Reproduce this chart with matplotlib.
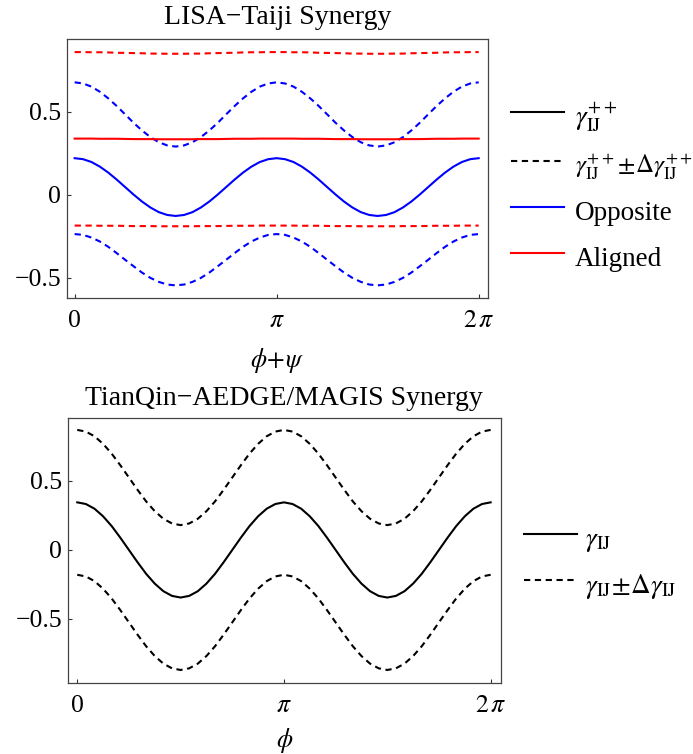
import numpy as np
import matplotlib
matplotlib.use("Agg")
import matplotlib.pyplot as plt
from matplotlib.lines import Line2D

plt.rcParams['font.family'] = ['Liberation Serif', 'DejaVu Serif']
plt.rcParams['mathtext.fontset'] = 'stix'

# angle grid (0 .. 2 pi, step pi/24)
phi = np.linspace(0, 2 * np.pi, 49)

# LISA-Taiji: opposite (blue) and aligned (red) configurations
opp = [0.220, 0.214, 0.197, 0.169, 0.133, 0.091, 0.046, 0.001, -0.041, -0.077, -0.105, -0.122, -0.128,
       -0.122, -0.105, -0.077, -0.041, 0.001, 0.046, 0.091, 0.133, 0.169, 0.197, 0.214, 0.220,
       0.214, 0.197, 0.169, 0.133, 0.091, 0.046, 0.001, -0.041, -0.077, -0.105, -0.122, -0.128,
       -0.122, -0.105, -0.077, -0.041, 0.001, 0.046, 0.091, 0.133, 0.169, 0.197, 0.214, 0.220]
opp_up = [0.677, 0.670, 0.651, 0.620, 0.580, 0.534, 0.484, 0.433, 0.387, 0.347, 0.316, 0.297, 0.290,
          0.297, 0.316, 0.347, 0.387, 0.433, 0.484, 0.534, 0.580, 0.620, 0.651, 0.670, 0.677,
          0.670, 0.651, 0.620, 0.580, 0.534, 0.484, 0.433, 0.387, 0.347, 0.316, 0.297, 0.290,
          0.297, 0.316, 0.347, 0.387, 0.433, 0.484, 0.534, 0.580, 0.620, 0.651, 0.670, 0.677]
opp_lo = [-0.237, -0.242, -0.258, -0.282, -0.314, -0.352, -0.392, -0.431, -0.469, -0.501, -0.525, -0.541, -0.546,
          -0.541, -0.525, -0.501, -0.469, -0.431, -0.392, -0.352, -0.314, -0.282, -0.258, -0.242, -0.237,
          -0.242, -0.258, -0.282, -0.314, -0.352, -0.392, -0.431, -0.469, -0.501, -0.525, -0.541, -0.546,
          -0.541, -0.525, -0.501, -0.469, -0.431, -0.392, -0.352, -0.314, -0.282, -0.258, -0.242, -0.237]
ali = [0.338, 0.338, 0.338, 0.337, 0.337, 0.337, 0.336, 0.335, 0.335, 0.335, 0.334, 0.334, 0.334,
       0.334, 0.334, 0.335, 0.335, 0.335, 0.336, 0.337, 0.337, 0.337, 0.338, 0.338, 0.338,
       0.338, 0.338, 0.337, 0.337, 0.337, 0.336, 0.335, 0.335, 0.335, 0.334, 0.334, 0.334,
       0.334, 0.334, 0.335, 0.335, 0.335, 0.336, 0.337, 0.337, 0.337, 0.338, 0.338, 0.338]
ali_up = [0.859, 0.859, 0.858, 0.858, 0.857, 0.855, 0.854, 0.853, 0.852, 0.850, 0.850, 0.849, 0.849,
          0.849, 0.850, 0.850, 0.852, 0.853, 0.854, 0.855, 0.857, 0.858, 0.858, 0.859, 0.859,
          0.859, 0.858, 0.858, 0.857, 0.855, 0.854, 0.853, 0.852, 0.850, 0.850, 0.849, 0.849,
          0.849, 0.850, 0.850, 0.852, 0.853, 0.854, 0.855, 0.857, 0.858, 0.858, 0.859, 0.859]
ali_lo = [-0.186, -0.186, -0.186, -0.187, -0.187, -0.187, -0.188, -0.189, -0.189, -0.189, -0.190, -0.190, -0.190,
          -0.190, -0.190, -0.189, -0.189, -0.189, -0.188, -0.187, -0.187, -0.187, -0.186, -0.186, -0.186,
          -0.186, -0.186, -0.187, -0.187, -0.187, -0.188, -0.189, -0.189, -0.189, -0.190, -0.190, -0.190,
          -0.190, -0.190, -0.189, -0.189, -0.189, -0.188, -0.187, -0.187, -0.187, -0.186, -0.186, -0.186]

# TianQin-AEDGE/MAGIS
gam = [0.345, 0.333, 0.299, 0.244, 0.173, 0.089, 0.000, -0.089, -0.173, -0.244, -0.299, -0.333, -0.345,
       -0.333, -0.299, -0.244, -0.173, -0.089, 0.000, 0.089, 0.173, 0.244, 0.299, 0.333, 0.345,
       0.333, 0.299, 0.244, 0.173, 0.089, 0.000, -0.089, -0.173, -0.244, -0.299, -0.333, -0.345,
       -0.333, -0.299, -0.244, -0.173, -0.089, 0.000, 0.089, 0.173, 0.244, 0.299, 0.333, 0.345]
gam_up = [0.870, 0.858, 0.824, 0.769, 0.698, 0.614, 0.525, 0.436, 0.352, 0.281, 0.226, 0.192, 0.180,
          0.192, 0.226, 0.281, 0.352, 0.436, 0.525, 0.614, 0.698, 0.769, 0.824, 0.858, 0.870,
          0.858, 0.824, 0.769, 0.698, 0.614, 0.525, 0.436, 0.352, 0.281, 0.226, 0.192, 0.180,
          0.192, 0.226, 0.281, 0.352, 0.436, 0.525, 0.614, 0.698, 0.769, 0.824, 0.858, 0.870]
gam_lo = [-0.180, -0.192, -0.226, -0.281, -0.352, -0.436, -0.525, -0.614, -0.698, -0.769, -0.824, -0.858, -0.870,
          -0.858, -0.824, -0.769, -0.698, -0.614, -0.525, -0.436, -0.352, -0.281, -0.226, -0.192, -0.180,
          -0.192, -0.226, -0.281, -0.352, -0.436, -0.525, -0.614, -0.698, -0.769, -0.824, -0.858, -0.870,
          -0.858, -0.824, -0.769, -0.698, -0.614, -0.525, -0.436, -0.352, -0.281, -0.226, -0.192, -0.180]

xticks = [0, np.pi, 2 * np.pi]
xticklabels = ['0', r'$\pi$', r'$2\,\pi$']
yticks = [-0.5, 0, 0.5]
yticklabels = ['\u22120.5', '0', '0.5']

fs_title = 20
fs_tick = 18.5
fs_leg = 19.5
lw = 1.5
dash = (0, (3.0, 2.2))

fig = plt.figure(figsize=(6.93, 7.54), dpi=100)
ax1 = fig.add_axes([0.0962, 0.6048, 0.608, 0.3435])
ax2 = fig.add_axes([0.0975, 0.0946, 0.6254, 0.3515])

ax1.plot(phi, ali_up, color='red', lw=lw, ls=dash)
ax1.plot(phi, ali_lo, color='red', lw=lw, ls=dash)
ax1.plot(phi, opp_up, color='blue', lw=lw, ls=dash)
ax1.plot(phi, opp_lo, color='blue', lw=lw, ls=dash)
ax1.plot(phi, ali, color='red', lw=lw)
ax1.plot(phi, opp, color='blue', lw=lw)
ax1.set_xlim(-0.124, 2 * np.pi + 0.145)
ax1.set_ylim(-0.622, 0.938)
ax1.set_title('LISA\u2212Taiji Synergy', fontsize=fs_title, pad=11)
ax1.set_xlabel(r'$\phi\!+\!\psi$', fontsize=fs_tick, labelpad=10)

handles1 = [Line2D([], [], color='black', lw=lw),
            Line2D([], [], color='black', lw=lw, ls=dash),
            Line2D([], [], color='blue', lw=lw),
            Line2D([], [], color='red', lw=lw)]
labels1 = [r'$\gamma_{\mathrm{IJ}}^{++}$',
           r'$\gamma_{\mathrm{IJ}}^{++}\!\pm\!\Delta\gamma_{\mathrm{IJ}}^{++}$',
           'Opposite', 'Aligned']
leg1 = ax1.legend(handles1, labels1, loc='center left', bbox_to_anchor=(1.055, 0.43),
                  frameon=False, fontsize=fs_leg, borderpad=0, borderaxespad=0,
                  handlelength=1.95, handletextpad=0.4, handleheight=1.5,
                  labelspacing=0.47)
leg1.get_texts()[1].set_fontsize(18)

ax2.plot(phi, gam_up, color='black', lw=lw, ls=dash)
ax2.plot(phi, gam_lo, color='black', lw=lw, ls=dash)
ax2.plot(phi, gam, color='black', lw=lw)
ax2.set_xlim(-0.147, 2 * np.pi + 0.157)
ax2.set_ylim(-0.962, 0.959)
ax2.set_title('TianQin\u2212AEDGE/MAGIS Synergy', fontsize=fs_title, pad=9)
ax2.set_xlabel(r'$\phi$', fontsize=fs_tick, labelpad=6)

handles2 = [Line2D([], [], color='black', lw=lw),
            Line2D([], [], color='black', lw=lw, ls=dash)]
labels2 = [r'$\gamma_{\mathrm{IJ}}$', r'$\gamma_{\mathrm{IJ}}\!\pm\!\Delta\gamma_{\mathrm{IJ}}$']
ax2.legend(handles2, labels2, loc='center left', bbox_to_anchor=(1.053, 0.46),
           frameon=False, fontsize=fs_leg, borderpad=0, borderaxespad=0,
           handlelength=1.95, handletextpad=0.3, handleheight=1.5,
           labelspacing=0.47)

for ax in (ax1, ax2):
    ax.set_xticks(xticks)
    ax.set_xticklabels(xticklabels)
    ax.set_yticks(yticks)
    ax.set_yticklabels(yticklabels)
    ax.tick_params(direction='in', length=3, width=0.8, labelsize=fs_tick, color='#333333')
    ax.tick_params(axis='x', pad=9)
    ax.tick_params(axis='y', pad=4)
    for s in ax.spines.values():
        s.set_color('#444444')
        s.set_linewidth(0.9)

fig.savefig('out.png', dpi=100)
